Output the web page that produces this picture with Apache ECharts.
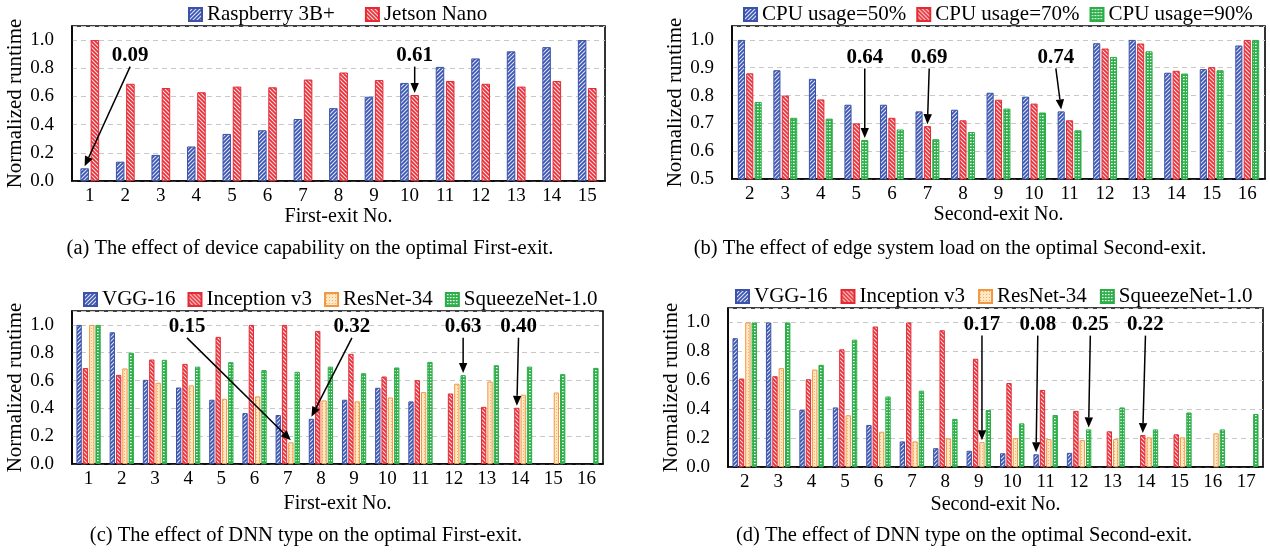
<!DOCTYPE html>
<html><head><meta charset="utf-8">
<script src="https://cdn.jsdelivr.net/npm/echarts@6/dist/echarts.min.js"></script>
<style>html,body{margin:0;padding:0;background:#fff}#c{width:1270px;height:552px}</style>
</head><body><div id="c"></div>
<script>
// ---------------- data ----------------
const catsA = ['1','2','3','4','5','6','7','8','9','10','11','12','13','14','15'];
const raspberry = [0.09,0.137,0.185,0.245,0.334,0.36,0.44,0.517,0.598,0.696,0.81,0.87,0.92,0.95,1.0];
const jetson    = [1.0,0.69,0.66,0.63,0.67,0.665,0.72,0.77,0.716,0.61,0.71,0.69,0.67,0.71,0.66];

const catsB = ['2','3','4','5','6','7','8','9','10','11','12','13','14','15','16'];
const cpu50 = [1.0,0.891,0.86,0.767,0.767,0.743,0.749,0.81,0.796,0.743,0.988,1.0,0.882,0.895,0.98];
const cpu70 = [0.88,0.80,0.786,0.70,0.72,0.69,0.711,0.785,0.771,0.711,0.969,0.987,0.889,0.902,1.0];
const cpu90 = [0.777,0.72,0.717,0.64,0.678,0.643,0.669,0.753,0.739,0.675,0.939,0.959,0.879,0.891,1.0];

const catsC = ['1','2','3','4','5','6','7','8','9','10','11','12','13','14','15','16'];
const vggC = [1.0,0.947,0.605,0.55,0.462,0.366,0.352,0.325,0.462,0.548,0.45,null,null,null,null,null];
const incC = [0.69,0.641,0.751,0.72,0.914,1.0,1.0,0.957,0.792,0.629,0.603,0.507,0.411,0.404,null,null];
const resC = [1.0,0.687,0.584,0.565,0.469,0.486,0.156,0.457,0.45,0.478,0.517,0.577,0.593,0.498,0.514,null];
const sqzC = [1.0,0.80,0.749,0.70,0.732,0.675,0.663,0.70,0.653,0.694,0.734,0.639,0.71,0.70,0.646,0.691];

const catsD = ['2','3','4','5','6','7','8','9','10','11','12','13','14','15','16','17'];
const vggD = [0.891,1.0,0.395,0.412,0.291,0.177,0.13,0.112,0.095,0.088,0.098,null,null,null,null,null];
const incD = [0.612,0.628,0.607,0.814,0.972,1.0,0.946,0.749,0.581,0.533,0.388,0.247,0.221,0.226,null,null];
const resD = [1.0,0.684,0.674,0.358,0.244,0.177,0.198,0.172,0.2,0.193,0.186,0.193,0.205,0.205,0.233,null];
const sqzD = [1.0,1.0,0.707,0.881,0.488,0.528,0.333,0.395,0.302,0.36,0.26,0.412,0.26,0.377,0.26,0.367];

const namesA = ['Raspberry 3B+','Jetson Nano'];
const namesB = ['CPU usage=50%','CPU usage=70%','CPU usage=90%'];
const namesDNN = ['VGG-16','Inception v3','ResNet-34','SqueezeNet-1.0'];

// annotations: label, category index, series index
const annoA = [{label:'0.09',cat:0,s:0},{label:'0.61',cat:9,s:1}];
const annoB = [{label:'0.64',cat:3,s:2},{label:'0.69',cat:5,s:1},{label:'0.74',cat:9,s:0}];
const annoC = [{label:'0.15',cat:6,s:2},{label:'0.32',cat:7,s:0},{label:'0.63',cat:11,s:3},{label:'0.40',cat:13,s:1}];
const annoD = [{label:'0.17',cat:7,s:2},{label:'0.08',cat:9,s:0},{label:'0.25',cat:10,s:3},{label:'0.22',cat:12,s:1}];

const captions = [
  '(a) The effect of device capability on the optimal First-exit.',
  '(b) The effect of edge system load on the optimal Second-exit.',
  '(c) The effect of DNN type on the optimal First-exit.',
  '(d) The effect of DNN type on the optimal Second-exit.'
];

// ---------------- layout / style ----------------
// annotation text placement: [offset from bar in category bands, text y in axis units]
const layA = [[1.28,0.89],[0,0.89]];
const layB = [[0,0.937],[0.05,0.937],[-0.15,0.937]];
const layC = [[-3.13,0.986],[1.22,0.986],[0,0.986],[0.05,0.986]];
const layD = [[0,0.985],[0.05,0.985],[0.05,0.985],[0.08,0.985]];

const F = '"Liberation Serif","Times New Roman",serif';

function mk(w,h){const c=document.createElement('canvas');c.width=w;c.height=h;return c;}
function hatch(base, dir){
  const s=4, c=mk(s,s), x=c.getContext('2d');
  x.fillStyle=base; x.fillRect(0,0,s,s);
  x.strokeStyle='rgba(255,255,255,0.85)'; x.lineWidth=1.1; x.beginPath();
  if(dir==='/'){x.moveTo(0,s);x.lineTo(s,0);x.moveTo(-1,1);x.lineTo(1,-1);x.moveTo(s-1,s+1);x.lineTo(s+1,s-1);}
  else{x.moveTo(0,0);x.lineTo(s,s);x.moveTo(s-1,-1);x.lineTo(s+1,1);x.moveTo(-1,s-1);x.lineTo(1,s+1);}
  x.stroke(); return {image:c, repeat:'repeat'};
}
function dots(){
  const c=mk(3,3), x=c.getContext('2d');
  x.fillStyle='#FFE8C6'; x.fillRect(0,0,3,3);
  x.fillStyle='#F7B060'; x.fillRect(1,1,1,1);
  return {image:c, repeat:'repeat'};
}
function grid3(){
  const c=mk(3,3), x=c.getContext('2d');
  x.fillStyle='#2FB04A'; x.fillRect(0,0,3,3);
  x.fillStyle='#ffffff'; x.fillRect(1,1,1.6,1.2);
  return {image:c, repeat:'repeat'};
}
const ST = {
  blue:  {color:hatch('#3A55B4','/'), borderColor:'#3B52A8', borderWidth:1},
  red:   {color:hatch('#E8303A','\\'), borderColor:'#E52A34', borderWidth:1},
  orange:{color:dots(), borderColor:'#F39640', borderWidth:1},
  green: {color:grid3(), borderColor:'#2BAE48', borderWidth:1}
};

const grids = [
  {left:72, top:26, width:533, height:155},
  {left:732, top:26, width:533, height:153},
  {left:72, top:311, width:531, height:153},
  {left:728, top:308, width:535, height:159}
].map(g=>Object.assign(g,{show:true, borderColor:'#000', borderWidth:1.6, containLabel:false, outerBoundsMode:'none'}));

const BW = [0.24,0.20,0.16,0.16];
const BG = [0.20,0.18,0.19,0.19];

function xAx(gi, cats, name, gap){
  return {type:'category', gridIndex:gi, data:cats, name:name, nameLocation:'middle', nameGap:gap,
    nameTextStyle:{fontFamily:F, fontSize:20, color:'#000'},
    axisLine:{lineStyle:{color:'#000', width:1.6}}, axisTick:{show:false},
    axisLabel:{fontFamily:F, fontSize:19, color:'#000', margin:6, interval:0, hideOverlap:false}};
}
function yAx(gi, min, max, interval, gap){
  return {type:'value', gridIndex:gi, min:min, max:max, interval:interval,
    name:'Normalized runtime', nameLocation:'middle', nameGap:gap,
    nameTextStyle:{fontFamily:F, fontSize:21, color:'#000'},
    axisLine:{show:true, lineStyle:{color:'#000', width:1.6}}, axisTick:{show:false},
    axisLabel:{fontFamily:F, fontSize:19, color:'#000', margin:18, showMaxLabel:false,
      formatter:function(v){return v.toFixed(1);}},
    splitLine:{show:true, lineStyle:{color:'#c8c8c8', type:[5,4], width:1}}};
}

function bars(gi, names, datas, styles){
  return names.map((n,i)=>({type:'bar', name:n, xAxisIndex:gi, yAxisIndex:gi, data:datas[i],
    barWidth:(BW[gi]*100)+'%', barGap:(BG[gi]*100)+'%', itemStyle:styles[i], silent:true}));
}

function annoSeries(gi, anno, lay, datas){
  const n = datas.length, w = BW[gi], g = BG[gi];
  return {type:'custom', xAxisIndex:gi, yAxisIndex:gi, silent:true, clip:false, z:10,
    data: anno.map(a=>[a.cat, datas[a.s][a.cat]]),
    encode:{x:0, y:1},
    renderItem:function(params, api){
      const a = anno[params.dataIndex], L = lay[params.dataIndex];
      const bw = api.size([1,0])[0];
      const off = (a.s - (n-1)/2) * w * (1+g);
      const p = api.coord([api.value(0), api.value(1)]);
      const bx = p[0] + off*bw, by = p[1] - 2;
      const tp = api.coord([api.value(0), L[1]]);
      const tx = bx + L[0]*bw, ty = tp[1];
      const sx = tx, sy = ty + 11;
      const ang = Math.atan2(by-sy, bx-sx), hl = 10, hw = 4.2;
      const ex = bx - hl*Math.cos(ang), ey = by - hl*Math.sin(ang);
      const p1 = [ex + hw*Math.sin(ang), ey - hw*Math.cos(ang)];
      const p2 = [ex - hw*Math.sin(ang), ey + hw*Math.cos(ang)];
      return {type:'group', children:[
        {type:'line', shape:{x1:sx,y1:sy,x2:ex,y2:ey}, style:{stroke:'#000', lineWidth:1.5}},
        {type:'polygon', shape:{points:[[bx,by],p1,p2]}, style:{fill:'#000'}},
        {type:'text', x:tx, y:ty, style:{text:a.label, fontFamily:F, fontSize:21, fontWeight:'bold',
          fill:'#000', align:'center', verticalAlign:'middle'}}
      ]};
    }};
}

function legend(names, left, top, gap){
  return {data:names, left:left, top:top, itemGap:gap, itemWidth:13, itemHeight:13, icon:'rect',
    selectedMode:false, padding:0, textStyle:{fontFamily:F, fontSize:21, color:'#000'}};
}

const chart = echarts.init(document.getElementById('c'), null, {renderer:'canvas'});
chart.setOption({
  animation:false,
  backgroundColor:'#fff',
  grid: grids,
  legend:[
    legend(namesA, 188, 4, 30),
    legend(namesB, 743, 4, 10),
    legend(namesDNN, 83, 289, 12),
    legend(namesDNN, 735, 286, 13)
  ],
  xAxis:[
    xAx(0, catsA, 'First-exit No.', 25),
    xAx(1, catsB, 'Second-exit No.', 25),
    xAx(2, catsC, 'First-exit No.', 30),
    xAx(3, catsD, 'Second-exit No.', 28)
  ],
  yAxis:[
    yAx(0, 0, 1.1, 0.2, 38),
    yAx(1, 0.5, 1.05, 0.1, 40),
    yAx(2, 0, 1.1, 0.2, 39),
    yAx(3, 0, 1.1, 0.2, 40)
  ],
  series:[].concat(
    bars(0, namesA, [raspberry, jetson], [ST.blue, ST.red]),
    bars(1, namesB, [cpu50, cpu70, cpu90], [ST.blue, ST.red, ST.green]),
    bars(2, namesDNN, [vggC, incC, resC, sqzC], [ST.blue, ST.red, ST.orange, ST.green]),
    bars(3, namesDNN, [vggD, incD, resD, sqzD], [ST.blue, ST.red, ST.orange, ST.green]),
    [annoSeries(0, annoA, layA, [raspberry, jetson]),
     annoSeries(1, annoB, layB, [cpu50, cpu70, cpu90]),
     annoSeries(2, annoC, layC, [vggC, incC, resC, sqzC]),
     annoSeries(3, annoD, layD, [vggD, incD, resD, sqzD])]
  ),
  graphic: captions.map((t,i)=>({type:'text', x:[310,950,306,964][i], y:[249,249,536,536][i],
    style:{text:t, fontFamily:F, fontSize:20.5, fill:'#000', align:'center', verticalAlign:'middle'}}))
});
</script>
</body></html>
